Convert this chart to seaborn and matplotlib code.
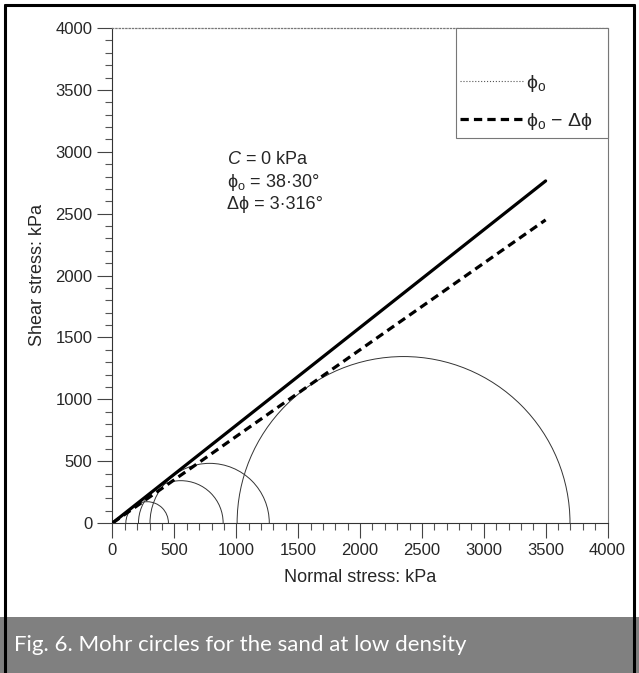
import numpy as np
import pandas as pd
import matplotlib
matplotlib.use("Agg")
import matplotlib.pyplot as plt
from matplotlib.patches import Arc, Rectangle
from matplotlib.lines import Line2D
from matplotlib.ticker import MultipleLocator
import seaborn as sns

# Strength parameters of the sand
cohesion = 0.0        # kPa
phi_o = 38.30         # degrees
delta_phi = 3.316     # degrees

# Normal-stress range covered by the failure envelopes (kPa)
envelope_sigma = [0.0, 3500.0]

# Mohr circles at failure: centre and radius (kPa)
circle_centres = [280, 552, 785, 2352]
circle_radii = [172, 342, 482, 1345]

# Axis ticks (kPa)
x_ticks = [0, 500, 1000, 1500, 2000, 2500, 3000, 3500, 4000]
y_ticks = [0, 500, 1000, 1500, 2000, 2500, 3000, 3500, 4000]

caption = "Fig. 6. Mohr circles for the sand at low density"

sns.set_style("ticks")
plt.rcParams["font.family"] = ["Liberation Sans", "DejaVu Sans"]
plt.rcParams["mathtext.fontset"] = "custom"
plt.rcParams["mathtext.rm"] = "Liberation Sans"
plt.rcParams["mathtext.it"] = "Liberation Sans:italic"

W, H = 639, 673
fig = plt.figure(figsize=(W / 100, H / 100), dpi=100)
fig.patch.set_facecolor("white")

x0, x1 = 112.5, 607.5
y0, y1 = 523.0, 28.0
ax = fig.add_axes([x0 / W, 1 - y0 / H, (x1 - x0) / W, (y0 - y1) / H])

# Failure envelopes tau = c + sigma * tan(phi)
sig = np.array(envelope_sigma)
env = pd.DataFrame({
    "sigma": np.concatenate([sig, sig]),
    "tau": np.concatenate([
        cohesion + sig * np.tan(np.radians(phi_o)),
        cohesion + sig * np.tan(np.radians(phi_o - delta_phi)),
    ]),
    "envelope": ["phi_o"] * 2 + ["phi_o - dphi"] * 2,
})
sns.lineplot(data=env[env.envelope == "phi_o"], x="sigma", y="tau",
             color="black", lw=2.3, ax=ax, legend=False, zorder=3)
sns.lineplot(data=env[env.envelope == "phi_o - dphi"], x="sigma", y="tau",
             color="black", lw=2.3, ax=ax, legend=False,
             zorder=3).lines[-1].set_dashes((2.6, 1.6))

# Mohr semicircles
for c, r in zip(circle_centres, circle_radii):
    ax.add_patch(Arc((c, 0), 2 * r, 2 * r, theta1=0, theta2=180,
                     color="#333333", lw=0.7, zorder=2))

ax.set_xlim(0, 4000)
ax.set_ylim(0, 4000)
ax.set_xticks(x_ticks)
ax.set_yticks(y_ticks)
ax.xaxis.set_minor_locator(MultipleLocator(100))
ax.yaxis.set_minor_locator(MultipleLocator(100))
ax.tick_params(which="major", direction="out", length=10.5, width=0.8,
               color="#444444", labelsize=12, pad=4)
ax.tick_params(which="minor", direction="out", length=5, width=0.8,
               color="#555555")
ax.set_xlabel("Normal stress: kPa", fontsize=13, labelpad=8)
ax.set_ylabel("Shear stress: kPa", fontsize=13, labelpad=7)

for s in ["left", "bottom"]:
    ax.spines[s].set_color("#333333")
    ax.spines[s].set_linewidth(0.8)
ax.spines["top"].set_visible(True)
ax.spines["right"].set_visible(True)
ax.spines["top"].set_color("#777777")
ax.spines["top"].set_linestyle(":")
ax.spines["top"].set_linewidth(0.9)
ax.spines["right"].set_color("#777777")
ax.spines["right"].set_linewidth(0.8)

# Parameter annotation
fmt = lambda v, d: f"{v:.{d}f}".replace(".", "·")
ax.text(926, 2940, f"$C$ = {cohesion:.0f} kPa", fontsize=13, va="center")
ax.text(926, 2750, "ϕ$_\\mathregular{o}$ = " + fmt(phi_o, 2) + "°",
        fontsize=13, va="center")
ax.text(926, 2570, "Δϕ = " + fmt(delta_phi, 3) + "°", fontsize=13,
        va="center")

# Legend box in the upper-right corner
ax.add_patch(Rectangle((0.694, 0.778), 0.306, 0.222, transform=ax.transAxes,
                       facecolor="white", edgecolor="#777777", lw=0.8,
                       zorder=4, clip_on=False))
handles = [
    Line2D([], [], color="#555555", lw=0.8, linestyle=":"),
    Line2D([], [], color="black", lw=2.3, dashes=(2.6, 1.6)),
]
labels = ["ϕ$_\\mathregular{o}$", "ϕ$_\\mathregular{o}$ − Δϕ"]
leg = ax.legend(handles, labels, loc="center left",
                bbox_to_anchor=(0.703, 0.8495), frameon=False, fontsize=14,
                borderpad=0, borderaxespad=0, handlelength=3.2,
                handletextpad=0.15, labelspacing=0.85)
leg.set_zorder(5)

# Caption band
band_h = (H - 617) / H
fig.patches.append(Rectangle((0, 0), 1, band_h, transform=fig.transFigure,
                             facecolor="#808080", edgecolor="none"))
fig.text(14 / W, (H - 645) / H, caption, color="white", fontsize=16,
         family=["Lato", "DejaVu Sans"], va="center", ha="left")

# Outer frame
lw_frame = 2.2
fig.add_artist(Line2D([5 / W, 5 / W], [0, 1 - 5 / H], color="black",
                      lw=lw_frame, transform=fig.transFigure))
fig.add_artist(Line2D([5 / W, 634 / W], [1 - 5 / H, 1 - 5 / H],
                      color="black", lw=lw_frame, transform=fig.transFigure))
fig.add_artist(Line2D([634 / W, 634 / W], [0, 1 - 5 / H], color="black",
                      lw=lw_frame, transform=fig.transFigure))

fig.savefig("out.png", dpi=100)
